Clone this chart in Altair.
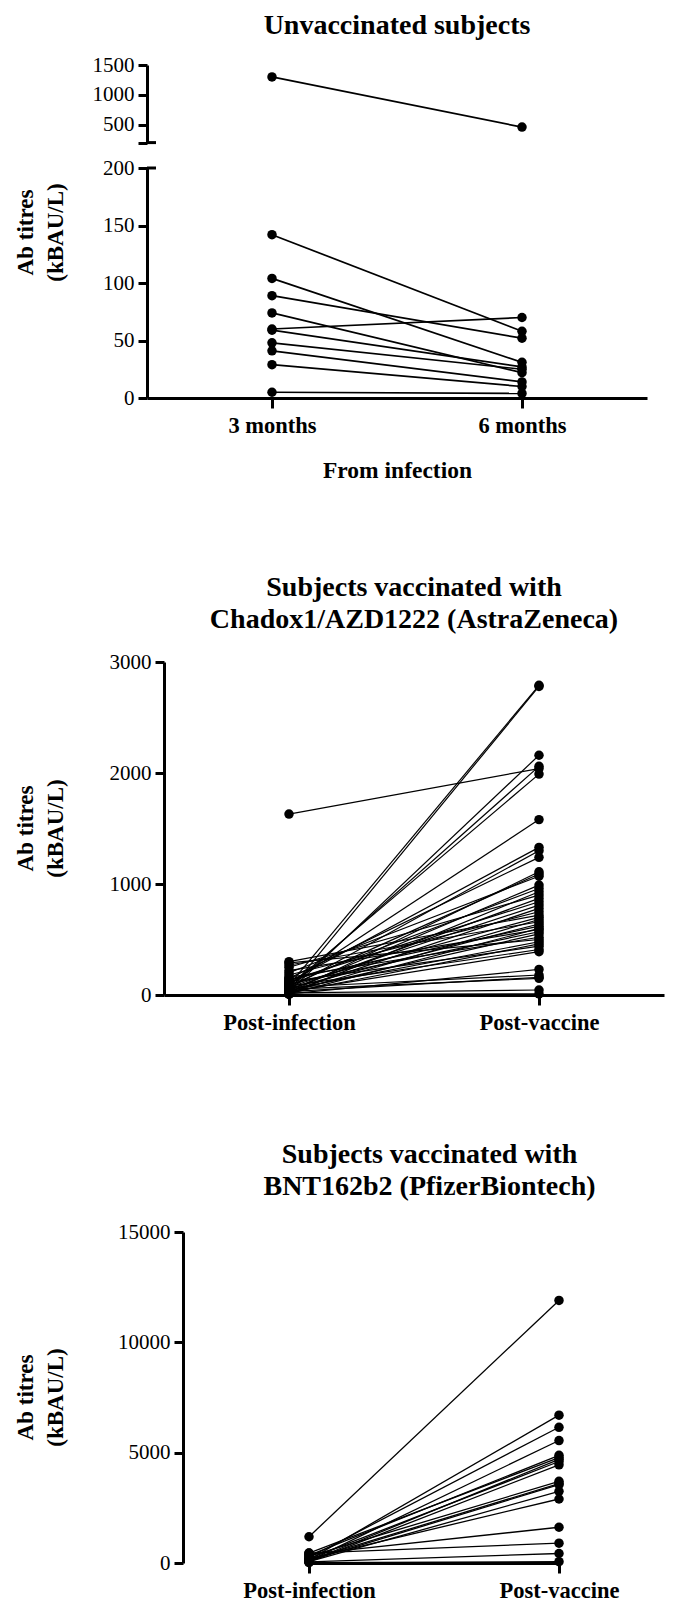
import altair as alt
import pandas as pd

FONT = "Liberation Serif"

# ---------------- data ----------------
UNVAC_TIMES = ["3 months", "6 months"]
UNVAC_3M = [1300, 142, 104, 89, 74, 60, 59, 48, 41, 29, 5]
UNVAC_6M = [460, 58, 31, 52, 22, 70, 27, 25, 14, 10, 4]

VAC_TIMES = ["Post-infection", "Post-vaccine"]
AZ_PRE = [1630, 90, 40, 30, 60, 80, 100, 120, 60, 150, 20, 80, 200, 40, 110, 10,
          250, 50, 130, 70, 30, 180, 300, 90, 20, 270, 60, 140, 10, 220, 100, 40,
          160, 290, 50, 20, 120, 80, 30, 10, 70, 30, 50, 20, 5]
AZ_POST = [2040, 2790, 2780, 2160, 2060, 1990, 1580, 1330, 1300, 1240, 1110, 1090, 1070, 990, 960, 930,
           900, 870, 840, 810, 780, 750, 720, 700, 680, 660, 640, 620, 600, 590, 570, 550,
           520, 500, 480, 460, 440, 410, 390, 230, 180, 160, 150, 45, 10]

PF_PRE = [1190, 150, 250, 100, 350, 450, 80, 200, 50, 300, 150, 100, 60, 200, 400, 450, 50, 20]
PF_POST = [11900, 6700, 6150, 5550, 4880, 4780, 4700, 4600, 4450, 3700, 3600, 3550, 3250, 2900,
           1620, 900, 430, 60]

AXIS_BREAK = [200]   # value at which the top panel's y axis is broken


def long_df(times, pre, post):
    rows = []
    for i, (a, b) in enumerate(zip(pre, post)):
        rows.append({"id": i, "time": times[0], "value": a})
        rows.append({"id": i, "time": times[1], "value": b})
    return pd.DataFrame(rows)


unvac_df = long_df(UNVAC_TIMES, UNVAC_3M, UNVAC_6M)
az_df = long_df(VAC_TIMES, AZ_PRE, AZ_POST)
pf_df = long_df(VAC_TIMES, PF_PRE, PF_POST)

Y_TITLE = ["Ab titres", "(kBAU/L)"]


def y_axis(values, title=True, title_x=None, title_y=None, label_expr=None):
    kw = dict(
        values=values, grid=False, format="d",
        domainWidth=3, domainColor="black", tickWidth=3, tickColor="black", tickSize=9,
        labelFont=FONT, labelFontSize=21, labelColor="black", labelPadding=4,
    )
    if label_expr:
        kw["labelExpr"] = label_expr
    if title:
        kw.update(title=Y_TITLE, titleFont=FONT, titleFontSize=23, titleFontWeight="bold",
                  titleColor="black", titleLineHeight=30, titleX=title_x, titleY=title_y)
    else:
        kw["title"] = None
    return alt.Axis(**kw)


def x_axis(title=None, **extra):
    kw = dict(
        grid=False, labelAngle=0,
        domainWidth=3, domainColor="black", tickWidth=3, tickColor="black", tickSize=10,
        labelFont=FONT, labelFontSize=22.5, labelFontWeight="bold", labelColor="black",
        labelPadding=6,
    )
    kw.update(extra)
    kw["title"] = title
    return alt.Axis(**kw)


def chart_title(lines, offset):
    return alt.TitleParams(text=lines, font=FONT, fontSize=28, fontWeight="bold", color="black",
                           anchor="middle", frame="group", baseline="bottom", offset=offset,
                           lineHeight=32)


def pair_layer(df, times, yscale, yaxis, xaxis, xscale, stroke_w, with_break=False):
    x = alt.X("time:N", sort=times, scale=xscale, axis=xaxis)
    y = alt.Y("value:Q", scale=yscale, axis=yaxis)
    lines = alt.Chart(df).mark_line(color="black", strokeWidth=stroke_w).encode(
        x=x, y=y, detail="id:N")
    pts = alt.Chart(df).mark_circle(color="black", size=90, opacity=1).encode(x=x, y=y)
    layers = [lines, pts]
    if with_break:
        brk = alt.Chart(pd.DataFrame({"value": AXIS_BREAK})).mark_rule(
            color="black", strokeWidth=3).encode(
            y=y, x=alt.value(0), x2=alt.value(9))
        layers.append(brk)
    return alt.layer(*layers)


def spacer():
    return alt.Chart(pd.DataFrame({"s": [0]})).mark_point(opacity=0, size=0).properties(
        width=1, height=1)


def wrap(panel):
    return alt.hconcat(spacer(), panel, spacing=0)


# ---------- Panel 1: unvaccinated (broken axis) ----------
xs_top = alt.Scale(domain=UNVAC_TIMES, type="point", padding=0.5)
high_df = unvac_df[unvac_df["value"] >= AXIS_BREAK[0]]
low_df = unvac_df[unvac_df["value"] < AXIS_BREAK[0]]

upper = pair_layer(
    high_df, UNVAC_TIMES,
    alt.Scale(domain=[200, 1500], nice=False, zero=False),
    y_axis([200, 500, 1000, 1500], title=False,
           label_expr="datum.value == 200 ? '' : datum.label"),
    None, xs_top, 1.7, with_break=True,
).properties(width=500, height=77.6, title=chart_title("Unvaccinated subjects", -14))

lower = pair_layer(
    low_df, UNVAC_TIMES,
    alt.Scale(domain=[0, 200], nice=False),
    y_axis([0, 50, 100, 150, 200], title_x=-110, title_y=64),
    x_axis("From infection", titleFont=FONT, titleFontSize=23.5, titleFontWeight="bold",
           titleColor="black", titlePadding=22),
    xs_top, 1.7, with_break=True,
).properties(width=500, height=230)

top_panel = wrap(alt.vconcat(upper, lower, spacing=25, bounds="flush"))

# ---------- Panel 2: AstraZeneca ----------
mid_panel = wrap(pair_layer(
    az_df, VAC_TIMES,
    alt.Scale(domain=[0, 3000], nice=False),
    y_axis([0, 1000, 2000, 3000], title_x=-127, title_y=166),
    x_axis(".", titleOpacity=0, titleFontSize=10, titlePadding=5),
    alt.Scale(domain=VAC_TIMES, type="point", padding=0.5), 1.2,
).properties(width=500, height=333,
             title=chart_title(["Subjects vaccinated with", "Chadox1/AZD1222 (AstraZeneca)"], -11)))

# ---------- Panel 3: Pfizer ----------
bot_panel = wrap(pair_layer(
    pf_df, VAC_TIMES,
    alt.Scale(domain=[0, 15000], nice=False),
    y_axis([0, 5000, 10000, 15000], title_x=-146, title_y=165),
    x_axis(),
    alt.Scale(domain=VAC_TIMES, type="point", padding=0, range=[126, 376]), 1.3,
).properties(width=493, height=331,
             title=chart_title(["Subjects vaccinated with", "BNT162b2 (PfizerBiontech)"], -8)))

chart = alt.vconcat(top_panel, mid_panel, bot_panel, spacing=92).properties(
    padding={"left": 5, "top": 4, "right": 0, "bottom": 0},
    background="white",
).configure_view(stroke=None)

chart.save("out.html", embed_options={"renderer": "svg", "actions": False})
